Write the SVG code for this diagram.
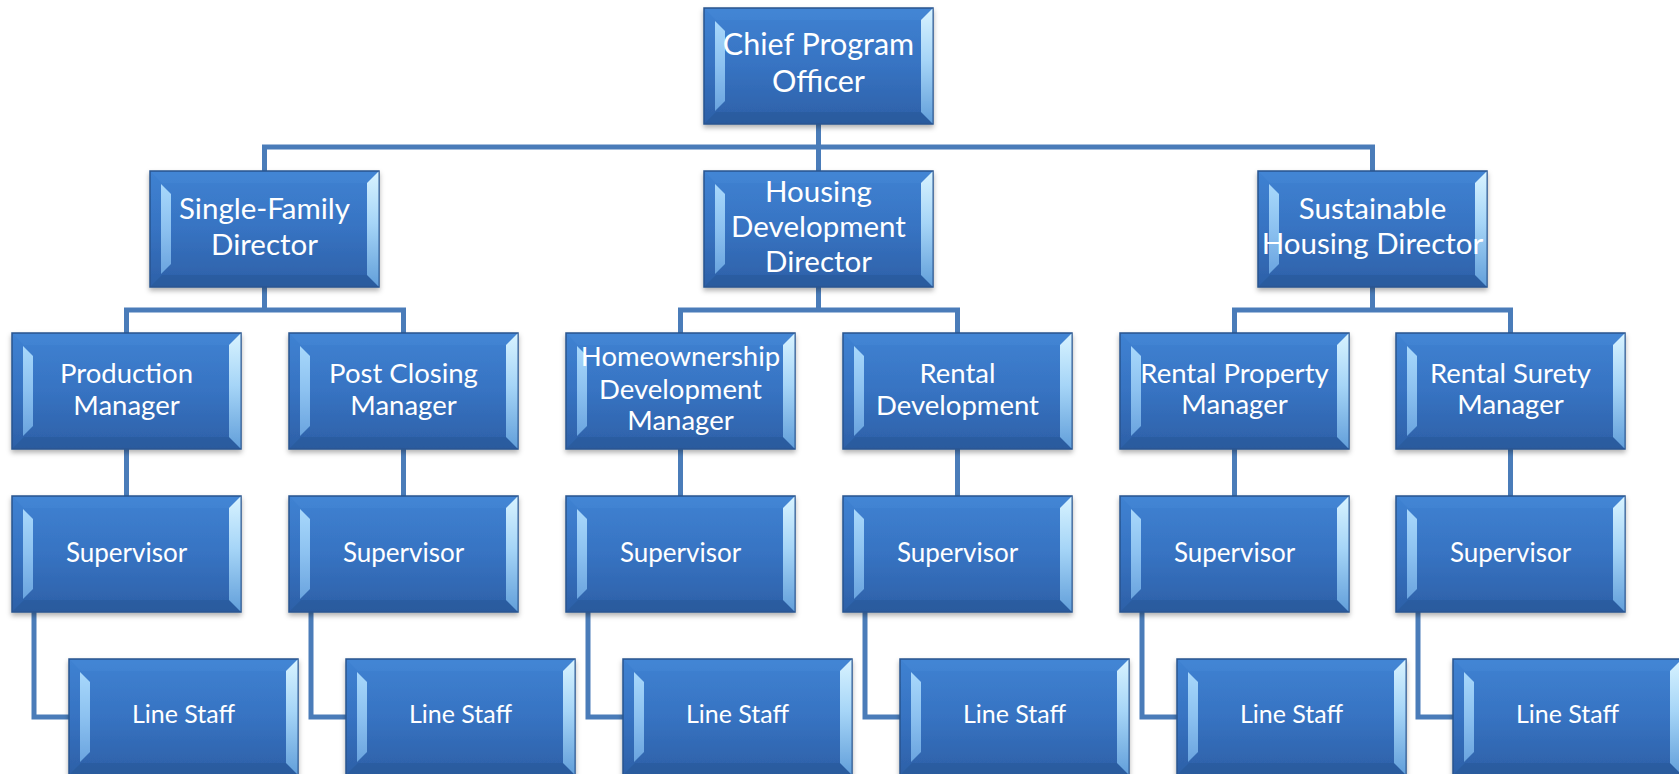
<svg xmlns="http://www.w3.org/2000/svg" xmlns:xlink="http://www.w3.org/1999/xlink" width="1679" height="774" viewBox="0 0 1679 774">
<defs>
<style>
.t{font-family:Lato,"Open Sans","Liberation Sans",sans-serif;fill:#ffffff;text-anchor:middle}
.l1{font-size:30.5px}
.l2{font-size:29.5px}
.l3{font-size:27.5px}
.l4{font-size:26px}
.l5{font-size:25px}
.conn{fill:none;stroke:#4a7cb9;stroke-width:5;stroke-linejoin:miter;stroke-linecap:butt}
</style>
<linearGradient id="gFill" x1="0" y1="0" x2="0" y2="1">
<stop offset="0" stop-color="#3f82d2"/>
<stop offset="0.5" stop-color="#3773c2"/>
<stop offset="1" stop-color="#2d60a7"/>
</linearGradient>
<linearGradient id="gLeft" x1="0" y1="0" x2="0" y2="1">
<stop offset="0" stop-color="#a8d8fb"/>
<stop offset="0.5" stop-color="#8cc1f0"/>
<stop offset="1" stop-color="#6aa4df"/>
</linearGradient>
<linearGradient id="gRight" x1="0" y1="0" x2="0" y2="1">
<stop offset="0" stop-color="#d8f3ff"/>
<stop offset="0.45" stop-color="#a6d5f7"/>
<stop offset="1" stop-color="#629fda"/>
</linearGradient>
<filter id="sh" x="-10%" y="-10%" width="120%" height="130%">
<feDropShadow dx="0" dy="3" stdDeviation="2.5" flood-color="#000" flood-opacity="0.3"/>
</filter>
<g id="box">
<rect x="0" y="0" width="229" height="116" fill="url(#gFill)" stroke="#28548e" stroke-width="1.5"/>
<polygon points="1,1 228,1 217,12 12,12" fill="#4c8ddb" opacity="0.3"/>
<polygon points="1,115 12,104 217,104 228,115" fill="#234f8c" opacity="0.35"/>
<polygon points="11,13 21,23 21,93 11,103" fill="url(#gLeft)"/>
<polygon points="217,12 228.5,0.5 228.5,115.5 217,104" fill="url(#gRight)"/>
</g>
</defs>
<rect width="1679" height="774" fill="#ffffff"/>

<g id="connectors">
<path class="conn" d="M818.5 124 V147 M264.5 171 V147 H1372.5 V171 M818.5 147 V171"/>
<path class="conn" d="M264.5 287 V310 M126.5 333 V310 H403.5 V333"/>
<path class="conn" d="M818.5 287 V310 M680.5 333 V310 H957.5 V333"/>
<path class="conn" d="M1372.5 287 V310 M1234.5 333 V310 H1510.5 V333"/>
<path class="conn" d="M126.5 449 V496 M403.5 449 V496 M680.5 449 V496 M957.5 449 V496 M1234.5 449 V496 M1510.5 449 V496"/>
<path class="conn" d="M34 612 V717 H69 M311 612 V717 H346 M588 612 V717 H623 M865 612 V717 H900 M1142 612 V717 H1177 M1418 612 V717 H1453"/>
</g>

<g id="chief"><use href="#box" x="704" y="8" filter="url(#sh)"/>
<text class="t l1" x="818.5" y="55">Chief Program</text><text class="t l1" x="818.5" y="92">Officer</text></g>

<g id="dir-single-family"><use href="#box" x="150" y="171" filter="url(#sh)"/>
<text class="t l2" x="264.5" y="219">Single-Family</text><text class="t l2" x="264.5" y="255">Director</text></g>
<g id="dir-housing-dev"><use href="#box" x="704" y="171" filter="url(#sh)"/>
<text class="t l2" x="818.5" y="202">Housing</text><text class="t l2" x="818.5" y="237">Development</text><text class="t l2" x="818.5" y="272">Director</text></g>
<g id="dir-sustainable"><use href="#box" x="1258" y="171" filter="url(#sh)"/>
<text class="t l2" x="1372.5" y="219">Sustainable</text><text class="t l2" x="1372.5" y="254">Housing Director</text></g>

<g id="mgr-production"><use href="#box" x="12" y="333" filter="url(#sh)"/>
<text class="t l3" x="126.5" y="383">Production</text><text class="t l3" x="126.5" y="415">Manager</text></g>
<g id="mgr-post-closing"><use href="#box" x="289" y="333" filter="url(#sh)"/>
<text class="t l3" x="403.5" y="383">Post Closing</text><text class="t l3" x="403.5" y="415">Manager</text></g>
<g id="mgr-homeownership"><use href="#box" x="566" y="333" filter="url(#sh)"/>
<text class="t l3" x="680.5" y="366">Homeownership</text><text class="t l3" x="680.5" y="399">Development</text><text class="t l3" x="680.5" y="430">Manager</text></g>
<g id="mgr-rental-dev"><use href="#box" x="843" y="333" filter="url(#sh)"/>
<text class="t l3" x="957.5" y="383">Rental</text><text class="t l3" x="957.5" y="415">Development</text></g>
<g id="mgr-rental-property"><use href="#box" x="1120" y="333" filter="url(#sh)"/>
<text class="t l3" x="1234.5" y="383">Rental Property</text><text class="t l3" x="1234.5" y="414">Manager</text></g>
<g id="mgr-rental-surety"><use href="#box" x="1396" y="333" filter="url(#sh)"/>
<text class="t l3" x="1510.5" y="383">Rental Surety</text><text class="t l3" x="1510.5" y="414">Manager</text></g>

<g id="sup-1"><use href="#box" x="12" y="496" filter="url(#sh)"/><text class="t l4" x="126.5" y="562">Supervisor</text></g>
<g id="sup-2"><use href="#box" x="289" y="496" filter="url(#sh)"/><text class="t l4" x="403.5" y="562">Supervisor</text></g>
<g id="sup-3"><use href="#box" x="566" y="496" filter="url(#sh)"/><text class="t l4" x="680.5" y="562">Supervisor</text></g>
<g id="sup-4"><use href="#box" x="843" y="496" filter="url(#sh)"/><text class="t l4" x="957.5" y="562">Supervisor</text></g>
<g id="sup-5"><use href="#box" x="1120" y="496" filter="url(#sh)"/><text class="t l4" x="1234.5" y="562">Supervisor</text></g>
<g id="sup-6"><use href="#box" x="1396" y="496" filter="url(#sh)"/><text class="t l4" x="1510.5" y="562">Supervisor</text></g>

<g id="staff-1"><use href="#box" x="69" y="659" filter="url(#sh)"/><text class="t l5" x="183.5" y="723">Line Staff</text></g>
<g id="staff-2"><use href="#box" x="346" y="659" filter="url(#sh)"/><text class="t l5" x="460.5" y="723">Line Staff</text></g>
<g id="staff-3"><use href="#box" x="623" y="659" filter="url(#sh)"/><text class="t l5" x="737.5" y="723">Line Staff</text></g>
<g id="staff-4"><use href="#box" x="900" y="659" filter="url(#sh)"/><text class="t l5" x="1014.5" y="723">Line Staff</text></g>
<g id="staff-5"><use href="#box" x="1177" y="659" filter="url(#sh)"/><text class="t l5" x="1291.5" y="723">Line Staff</text></g>
<g id="staff-6"><use href="#box" x="1453" y="659" filter="url(#sh)"/><text class="t l5" x="1567.5" y="723">Line Staff</text></g>
</svg>
